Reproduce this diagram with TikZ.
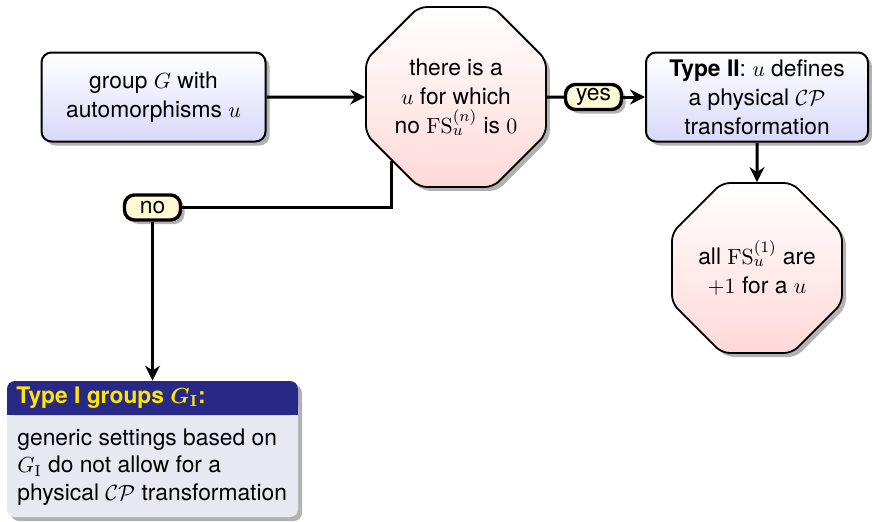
\documentclass[tikz,border=0pt]{standalone}
\usepackage[no-math]{fontspec}
\setmainfont{TeX Gyre Heros}
\usetikzlibrary{shapes.geometric,shadows,arrows.meta}
\definecolor{boxblue}{RGB}{216,216,250}
\definecolor{octpink}{RGB}{255,216,216}
\definecolor{labyellow}{RGB}{255,250,212}
\definecolor{titleblue}{RGB}{40,40,135}
\definecolor{titleyellow}{RGB}{255,230,0}
\definecolor{bodygray}{RGB}{232,232,243}
\newcommand{\mainsize}{\fontsize{11.4}{14.5}\selectfont}
\newcommand{\bodysize}{\fontsize{11.4}{13.8}\selectfont}
\begin{document}
\begin{tikzpicture}[x=0.5pt,y=-0.5pt,
  every node/.style={font=\mainsize},
  shad/.style={drop shadow={shadow xshift=2pt,shadow yshift=-2pt,opacity=0.3,fill=black}},
  bluebox/.style={draw,line width=1pt,rounded corners=5pt,top color=white,bottom color=boxblue,
    shad,align=center,minimum width=112pt,minimum height=44.5pt,inner sep=2pt},
  octo/.style={draw,line width=0.9pt,regular polygon,regular polygon sides=8,rounded corners=4pt,
    top color=white,bottom color=octpink,shad,align=center,inner sep=0pt},
  lab/.style={draw,line width=1.7pt,rounded corners=5pt,fill=labyellow,shad,
    minimum width=28pt,minimum height=12.5pt,inner sep=1pt},
  titletext/.style={anchor=base west,text=titleyellow,inner sep=0pt,font=\mainsize\bfseries},
  bodytext/.style={anchor=north west,align=left,inner sep=0pt,font=\bodysize},
  conn/.style={line width=1.5pt,-{Stealth[length=7.5pt,width=7.5pt,inset=2.5pt]}},
  plain/.style={line width=1.5pt}
]
\useasboundingbox (0,0) rectangle (872,521);

% nodes
\node[bluebox] (grp) at (153.5,97) {group $G$ with\\automorphisms $u$};
\node[octo,minimum size=97.4pt] (oct1) at (456,97) {there is a\\$u$ for which\\no $\mathrm{FS}_u^{(n)}$ is $0$};
\node[bluebox,minimum width=111pt] (t2) at (757,97) {\textbf{Type II}: $u$ defines\\a physical $\mathcal{CP}$\\transformation};
\node[octo,minimum size=92pt] (oct2) at (757,268) {all $\mathrm{FS}_u^{(1)}$ are\\$+1$ for a $u$};

% Type I block
\node[fill=bodygray,rounded corners=4pt,shad,minimum width=145.5pt,minimum height=68pt,inner sep=0pt] (t1) at (152.5,449) {};
\fill[titleblue,rounded corners=4pt] (7,381) rectangle (298,415);
\fill[titleblue] (7,400) rectangle (298,415);
\node[titletext] (t1title) at (16,403) {Type I groups {\boldmath$G_{\mathrm{I}}$}:};
\node[bodytext] (t1body) at (17,428) {generic settings based on\\$G_{\mathrm{I}}$ do not allow for a\\physical $\mathcal{CP}$ transformation};

% labels
\node[lab] (yes) at (593.5,97) {yes};
\node[lab] (no) at (152.5,207.5) {no};

% connectors
\draw[conn] (grp.east) -- (oct1.west);
\draw[plain] (oct1.east) -- (yes.west);
\draw[conn] (yes.east) -- (t2.west);
\draw[conn] (t2.south) -- (oct2.north);
\draw[plain] (oct1.south west) |- (no.east);
\draw[conn] (no.south) -- (t1.north);
\end{tikzpicture}
\end{document}
